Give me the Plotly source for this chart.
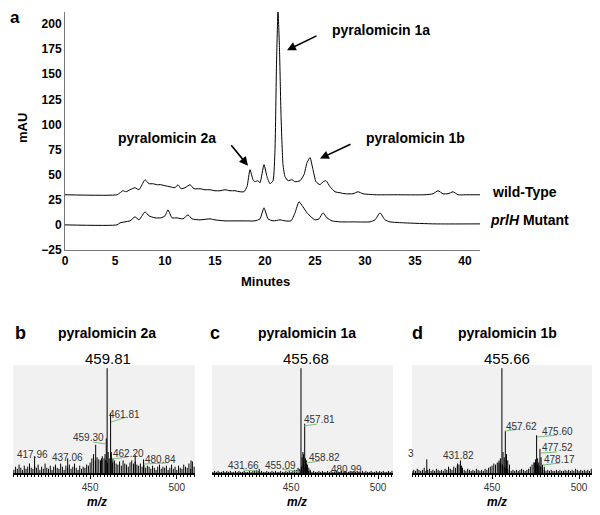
import plotly.graph_objects as go

# The page body has an 8px margin, so the figure is drawn 8px in from the window corner.
OFF = 8
W, H = 600 - OFF, 515 - OFF
def px(x): return (x - OFF) / W
def py(y): return 1 - (y - OFF) / H

# ---------------- Panel a: HPLC chromatograms ----------------
wt_time = [0, 5.2, 5.5, 5.8, 6.1, 6.5, 7.0, 7.4, 7.7, 8.0, 8.4, 8.8, 9.2, 9.6, 10.0, 10.5,
           11.0, 11.3, 11.6, 12.0, 12.5, 12.9, 13.5, 14.0, 14.5, 15.0, 15.5, 16.0, 16.5,
           17.0, 17.5, 17.9, 18.2, 18.5, 18.8, 19.0, 19.3, 19.5, 19.9, 20.2, 20.5, 20.8,
           21.0, 21.15, 21.3, 21.45, 21.6, 21.8, 22.0, 22.3, 22.7, 23.0, 23.5, 23.9, 24.2,
           24.5, 24.8, 25.1, 25.5, 25.8, 26.1, 26.5, 27.0, 27.5, 28.0, 28.8, 29.3, 29.8,
           31, 33, 36, 36.8, 37.3, 37.8, 38.3, 38.8, 39.3, 40, 41.5]
wt_mau = [30, 30, 32, 34, 33, 35, 37, 35, 40, 45, 41, 41, 40, 40, 39, 38,
          37, 40, 36, 37, 40, 36, 36, 35, 35, 34, 34, 35, 34,
          34, 33, 33, 38, 55, 45, 43, 44, 42, 60, 48, 41, 44,
          75, 160, 213, 175, 110, 60, 48, 44, 45, 43, 44, 50, 62,
          67, 55, 43, 40, 43, 44, 38, 33, 32, 31, 31, 33, 31,
          30, 30, 30, 31, 34, 31, 31, 33, 30, 30, 30]

mut_time = [0, 5.2, 5.5, 6.0, 6.5, 7.0, 7.4, 7.7, 8.0, 8.4, 9.0, 9.6, 10.0, 10.3, 10.7,
            11.2, 11.8, 12.3, 12.7, 13.5, 14.5, 15.0, 16.0, 17.0, 18.0, 19.0, 19.5, 19.9,
            20.3, 20.8, 21.5, 22.0, 22.6, 23.0, 23.4, 23.8, 24.2, 24.6, 25.0, 25.4, 25.8,
            26.2, 26.7, 27.5, 29, 30.5, 31.0, 31.5, 32.0, 32.5, 34, 37, 41.5]
mut_mau = [0, 0, 2, 3, 4, 8, 5, 9, 13, 9, 7, 7, 9, 15, 7,
           7, 6, 10, 6, 5, 6, 5, 4, 4, 4, 4, 6, 17,
           6, 4, 5, 4, 4, 12, 23, 18, 12, 8, 5, 6, 12,
           7, 4, 3, 3, 3, 5, 12, 5, 3, 2, 1, 1]

x_ticks_a = [0, 5, 10, 15, 20, 25, 30, 35, 40]
y_ticks_a = [-25, 0, 25, 50, 75, 100, 125, 150, 175, 200]

# ---------------- Panels b-d: mass spectra (relative intensity) ----------------
b_noise_start = 406
b_noise = [3, 6, 4, 8, 5, 3, 7, 4, 6, 9,
           5, 4, 7, 5, 8, 3, 6, 4, 9, 5,
           4, 7, 3, 6, 8, 5, 4, 9, 6, 3,
           7, 5, 8, 4, 6, 9, 5, 3, 7, 4,
           6, 5, 8, 7, 10, 14, 18, 12, 15, 13,
           12, 16, 14, 12, 10, 14, 18, 10, 12, 9,
           8, 11, 7, 12, 9, 8, 6, 10, 12, 9,
           11, 8, 7, 9, 6, 8, 5, 7, 6, 4,
           7, 5, 3, 6, 8, 4, 6, 5, 7, 3,
           5, 8, 4, 6, 3, 7, 5, 4, 8, 6,
           5, 9, 4, 11, 6]
b_mz = [417.96, 437.06, 453.2, 456.5, 458.6, 459.30, 459.81, 460.4, 461.81, 462.20, 463.1, 476.0, 480.84, 508.2]
b_int = [16, 14, 27, 14, 18, 33, 100, 20, 57, 20, 14, 17, 13, 12]

c_noise_start = 405
c_noise = [1, 2, 1, 2, 1, 1, 2, 1, 2, 1,
           2, 1, 1, 2, 1, 2, 1, 1, 2, 1,
           1, 2, 1, 2, 2, 3, 2, 1, 2, 1,
           1, 2, 1, 1, 2, 1, 2, 1, 1, 2,
           1, 1, 2, 1, 2, 1, 2, 3, 3, 5,
           4, 6, 8, 5, 3, 2, 2, 1, 2, 1,
           1, 2, 1, 2, 1, 1, 2, 1, 2, 1,
           1, 2, 1, 1, 2, 1, 2, 1, 1, 2,
           1, 2, 1, 2, 1, 1, 2, 1, 2, 1,
           1, 2, 1, 1, 2, 1, 2, 1, 2, 1,
           1, 2, 1, 2]
c_mz = [431.66, 455.09, 455.68, 456.3, 456.8, 457.2, 457.81, 458.3, 458.82, 459.4, 460.2, 461.0, 480.99]
c_int = [4, 3, 100, 15, 20, 18, 47, 14, 12, 8, 5, 3, 2]

d_noise_start = 404
d_noise = [2, 3, 2, 4, 3, 2, 3, 5, 2, 3,
           4, 2, 3, 2, 4, 3, 2, 3, 2, 4,
           3, 5, 4, 3, 6, 5, 7, 8, 6, 5,
           3, 2, 4, 3, 2, 3, 2, 4, 3, 2,
           3, 2, 4, 3, 5, 6, 7, 9, 8, 10,
           12, 9, 8, 6, 5, 4, 3, 2, 3, 2,
           3, 2, 3, 4, 3, 2, 3, 4, 6, 8,
           10, 9, 8, 7, 6, 4, 3, 2, 3, 2,
           3, 2, 2, 3, 2, 3, 2, 2, 3, 2,
           3, 2, 3, 2, 4, 3, 2, 3, 2, 3,
           2, 3, 2, 4, 3]
d_mz = [412.5, 425.0, 430.2, 431.82, 432.5, 452.0, 454.0, 454.8, 455.66, 456.3, 457.0, 457.62,
        458.3, 459.0, 460.0, 474.5, 475.0, 475.60, 476.2, 476.8, 477.52, 478.17, 479.0, 480.0]
d_int = [13, 6, 9, 12, 7, 6, 10, 14, 100, 20, 15, 40,
         18, 12, 8, 10, 13, 36, 14, 10, 23, 15, 8, 6]

spec_ticks = [450, 500]

# peak labels: (text, label centre px, leader line px or None)
b_labels = [("461.81", (124, 414), ((111, 422), (127, 417))),
            ("459.30", (88, 437), ((93, 442), (106, 444))),
            ("462.20", (128, 453), ((112, 459), (128, 457))),
            ("417.96", (32, 454), None),
            ("437.06", (67, 457), None),
            ("480.84", (160, 459), ((144, 464), (166, 463)))]
c_labels = [("457.81", (319, 419), ((304, 426), (317, 424))),
            ("458.82", (324, 457), ((306, 463), (320, 461))),
            ("431.66", (243, 465), ((243, 470), (258, 471))),
            ("455.09", (280, 465), ((282, 469), (300, 472))),
            ("480.99", (346, 469), None)]
d_labels = [("457.62", (521, 426), ((505, 431), (520, 429))),
            ("475.60", (557, 431), ((537, 437), (557, 435))),
            ("477.52", (557, 447), ((541, 453), (557, 452))),
            ("478.17", (559, 459), ((543, 465), (560, 463))),
            ("431.82", (458, 455), None),
            ("3", (411, 453), None)]


def sticks(noise_start, noise, mz, inten):
    xs, ys = [], []
    for i, h in enumerate(noise):
        m = noise_start + i
        xs += [m, m, None]
        ys += [0, h, None]
    for m, h in zip(mz, inten):
        xs += [m, m, None]
        ys += [0, h, None]
    return xs, ys


fig = go.Figure()
FONT = "Liberation Sans, Arial, sans-serif"

fig.add_trace(go.Scatter(x=wt_time, y=wt_mau, mode="lines", line=dict(color="black", width=1, shape="spline", smoothing=0.5),
                         xaxis="x", yaxis="y", showlegend=False, hoverinfo="skip"))
fig.add_trace(go.Scatter(x=mut_time, y=mut_mau, mode="lines", line=dict(color="black", width=1, shape="spline", smoothing=0.5),
                         xaxis="x", yaxis="y", showlegend=False, hoverinfo="skip"))

panels = [
    (2, b_noise_start, b_noise, b_mz, b_int, [405.5, 510.5], (13, 195)),
    (3, c_noise_start, c_noise, c_mz, c_int, [404.5, 508.6], (212, 393)),
    (4, d_noise_start, d_noise, d_mz, d_int, [404.0, 508.0], (412, 593)),
]
for n, ns, nz, mz, it, rng, (x0, x1) in panels:
    xs, ys = sticks(ns, nz, mz, it)
    fig.add_trace(go.Scatter(x=xs, y=ys, mode="lines", line=dict(color="black", width=1),
                             xaxis=f"x{n}", yaxis=f"y{n}", showlegend=False, hoverinfo="skip"))
    fig.layout[f"xaxis{n}"] = dict(domain=[px(x0), min(1, px(x1))], range=rng, anchor=f"y{n}",
                                   automargin=False,
                                   showline=True, linecolor="black", linewidth=1.5,
                                   ticks="outside", ticklen=4, tickcolor="black", tickwidth=1,
                                   tickvals=spec_ticks, showgrid=False, zeroline=False,
                                   tickfont=dict(family=FONT, size=10, color="#333"),
                                   minor=dict(dtick=2, ticks="outside", ticklen=2, tickcolor="black"))
    fig.layout[f"yaxis{n}"] = dict(domain=[py(473), py(365)], range=[0, 103], anchor=f"x{n}",
                                   automargin=False, visible=False)
    fig.add_shape(type="rect", xref=f"x{n} domain", yref=f"y{n} domain", x0=0, x1=1, y0=0, y1=1,
                  fillcolor="#f1f1f1", line=dict(width=0), layer="below")

fig.update_layout(
    width=W, height=H, margin=dict(l=0, r=0, t=0, b=0, autoexpand=False),
    paper_bgcolor="white", plot_bgcolor="white",
    xaxis=dict(domain=[px(65), px(480)], range=[0, 41.5], anchor="y", tickvals=x_ticks_a,
               automargin=False,
               showline=True, linecolor="#777", linewidth=1, showgrid=False, zeroline=False,
               ticks="", tickfont=dict(family=FONT, size=12, color="black", weight="bold")),
    yaxis=dict(domain=[py(250), py(12)], range=[-25, 212], anchor="x", tickvals=y_ticks_a,
               automargin=False,
               showline=True, linecolor="#777", linewidth=1, showgrid=False, zeroline=False,
               ticks="", tickfont=dict(family=FONT, size=12, color="black", weight="bold")),
)

ann = []
def txt(x, y, s, size=14, bold=True, italic=False, color="black", xanchor="center", angle=0):
    ann.append(dict(x=px(x), y=py(y), xref="paper", yref="paper", text=s, showarrow=False,
                    xanchor=xanchor, yanchor="middle", textangle=angle,
                    font=dict(family=FONT, size=size, color=color,
                              weight="bold" if bold else "normal",
                              style="italic" if italic else "normal")))

txt(15, 18, "a", size=17)
txt(22, 128, "mAU", size=13, angle=-90)
txt(265, 281, "Minutes", size=13)
txt(167, 138, "pyralomicin 2a", size=14)
txt(381, 30, "pyralomicin 1a", size=14)
txt(415, 138, "pyralomicin 1b", size=14)
txt(490, 192, "wild-Type", size=14, xanchor="left")
txt(488, 220, "<i>prlH</i> Mutant", size=14, xanchor="left")

# arrows (head in data coordinates, tail offset in px)
for hx, hy, ax, ay in [(18.3, 59, -18, -22), (22.2, 174, 31, -15), (25.5, 66, 32, -15)]:
    ann.append(dict(x=hx, y=hy, xref="x", yref="y", ax=ax, ay=ay, text="", showarrow=True,
                    arrowhead=2, arrowsize=1.1, arrowwidth=1.6, arrowcolor="black"))

for letter, lx, title, tx, main, mx in [("b", 20, "pyralomicin 2a", 107, "459.81", 108),
                                         ("c", 215, "pyralomicin 1a", 307, "455.68", 306),
                                         ("d", 417, "pyralomicin 1b", 507, "455.66", 507)]:
    txt(lx, 333, letter, size=18)
    txt(tx, 333, title, size=14)
    txt(mx, 358, main, size=15, bold=False)

for mzx in [97, 297, 497]:
    txt(mzx, 502, "m/z", size=12, italic=True)

for labels in (b_labels, c_labels, d_labels):
    for s, (lx, ly), lead in labels:
        txt(lx, ly, s, size=10, bold=False, color="#333")
        if lead:
            (a0, b0), (a1, b1) = lead
            fig.add_shape(type="line", xref="paper", yref="paper", x0=px(a0), y0=py(b0),
                          x1=px(a1), y1=py(b1), line=dict(color="#7dbb7d", width=1))

fig.update_layout(annotations=ann)
fig.write_html("out.html")
